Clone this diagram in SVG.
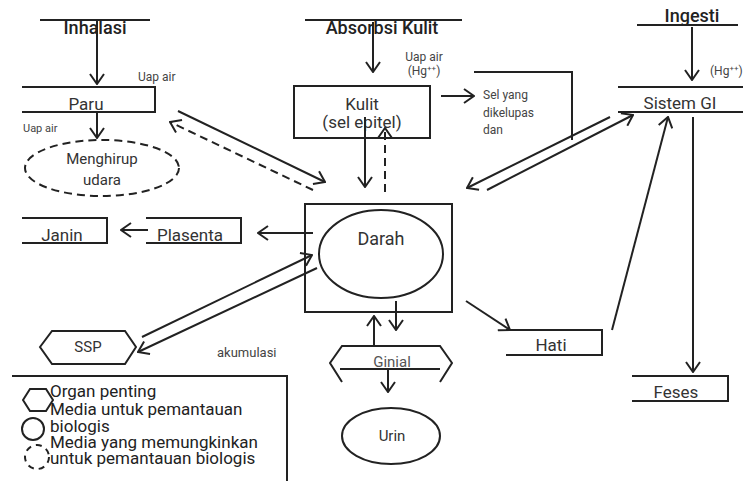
<svg xmlns="http://www.w3.org/2000/svg" width="743" height="481" viewBox="0 0 743 481">
<defs>
<marker id="ah" viewBox="0 0 12 16" refX="11" refY="8" markerWidth="12" markerHeight="16" markerUnits="userSpaceOnUse" orient="auto">
<path d="M1,1 L11,8 L1,15" fill="none" stroke="#222" stroke-width="2"/>
</marker>
</defs>
<style>
.s{fill:none;stroke:#222;stroke-width:2}
.d{fill:none;stroke:#222;stroke-width:2;stroke-dasharray:8 5}
.c{stroke:#222;stroke-width:2;fill:none;marker-end:url(#ah)}
.cd{stroke:#222;stroke-width:2;fill:none;stroke-dasharray:8 5;marker-end:url(#ah)}
text{font-family:Roboto,"Liberation Sans",sans-serif;fill:#333}
.h{font-size:18px;font-weight:500;text-anchor:middle;fill:#222}
.n{font-size:17px;text-anchor:middle}
.m{font-size:15px;text-anchor:middle}
.sm{font-size:12px;fill:#444}
.lg{font-size:17px;fill:#222}
</style>
<rect width="743" height="481" fill="#fff"/>

<g id="inhalasi">
<line class="s" x1="40" y1="20" x2="150" y2="20"/>
<text class="h" x="95" y="34">Inhalasi</text>
</g>
<g id="absorbsi">
<line class="s" x1="305" y1="20" x2="462" y2="20"/>
<text class="h" x="382" y="34">Absorbsi Kulit</text>
</g>
<g id="ingesti">
<line class="s" x1="637" y1="25" x2="738" y2="25"/>
<text class="h" x="692" y="22">Ingesti</text>
</g>

<g id="paru">
<path class="s" d="M22,87 H155 V112 H22"/>
<text class="n" x="86" y="110">Paru</text>
</g>
<g id="menghirup">
<ellipse class="d" cx="102" cy="168" rx="77" ry="28"/>
<text class="m" x="102" y="164">Menghirup</text>
<text class="m" x="102" y="185">udara</text>
</g>
<g id="kulit">
<rect class="s" x="294" y="86" width="136" height="52"/>
<text class="n" x="362" y="110">Kulit</text>
<text class="n" x="362" y="128">(sel epitel)</text>
</g>
<g id="sel">
<text class="sm" x="483" y="99">Sel yang</text>
<text class="sm" x="483" y="117">dikelupas</text>
<text class="sm" x="483" y="134">dan</text>
<path class="s" d="M474,72 H572 V140"/>
</g>
<g id="sistemgi">
<path class="s" d="M618,87 H743 M618,112 H743"/>
<text class="n" x="680" y="109">Sistem GI</text>
</g>
<g id="darah">
<rect class="s" x="305" y="204" width="147" height="108"/>
<ellipse class="s" cx="381" cy="254" rx="62" ry="44"/>
<text class="n" x="381" y="245" style="font-size:18px">Darah</text>
</g>
<g id="plasenta">
<path class="s" d="M146,218 H241 V243 H146"/>
<text class="n" x="190" y="241">Plasenta</text>
</g>
<g id="janin">
<path class="s" d="M22,218 H107 V243 H22"/>
<text class="n" x="62" y="241">Janin</text>
</g>
<g id="ssp">
<polygon class="s" points="40,347 52,331 125,331 136,347 125,364 52,364"/>
<text class="m" x="88" y="352">SSP</text>
</g>
<g id="ginjal">
<path class="s" d="M342,382 L330,363 L342,346 H440 L452,363 L440,382 M340,369 H440"/>
<text class="m" x="392" y="367" style="fill:#555">Ginial</text>
</g>
<g id="urin">
<ellipse class="s" cx="391" cy="436" rx="49" ry="28"/>
<text class="m" x="392" y="441">Urin</text>
</g>
<g id="hati">
<path class="s" d="M506,330 H602 V355 H506"/>
<text class="n" x="551" y="351">Hati</text>
</g>
<g id="feses">
<path class="s" d="M632,376 H728 V401 H632"/>
<text class="n" x="676" y="398">Feses</text>
</g>

<g id="labels">
<text class="sm" x="138" y="81" style="font-size:12px">Uap air</text>
<text class="sm" x="23" y="132" style="font-size:11px">Uap air</text>
<text class="sm" x="424" y="61" text-anchor="middle">Uap air</text>
<text class="sm" x="424" y="75" text-anchor="middle">(Hg<tspan font-size="8" dy="-4">++</tspan><tspan dy="4">)</tspan></text>
<text class="sm" x="710" y="75">(Hg<tspan font-size="8" dy="-4">++</tspan><tspan dy="4">)</tspan></text>
<text class="sm" x="217" y="357" style="font-size:13px">akumulasi</text>
</g>

<g id="connectors">
<line class="c" x1="97" y1="20" x2="97" y2="84"/>
<line class="c" x1="373" y1="22" x2="373" y2="72"/>
<line class="c" x1="692" y1="27" x2="692" y2="80"/>
<line class="c" x1="97" y1="113" x2="97" y2="138"/>
<line class="c" x1="178" y1="111" x2="325" y2="182"/>
<line class="cd" x1="313" y1="190" x2="170" y2="122"/>
<line class="c" x1="365" y1="117" x2="365" y2="187"/>
<line class="cd" x1="385" y1="192" x2="385" y2="128"/>
<line class="c" x1="441" y1="96" x2="474" y2="96"/>
<line class="c" x1="610" y1="117" x2="467" y2="188"/>
<line class="c" x1="487" y1="190" x2="633" y2="115"/>
<line class="c" x1="313" y1="233" x2="258" y2="233"/>
<line class="c" x1="148" y1="230" x2="121" y2="230"/>
<line class="c" x1="142" y1="337" x2="312" y2="255"/>
<line class="c" x1="317" y1="268" x2="138" y2="352"/>
<line class="c" x1="396" y1="301" x2="396" y2="330"/>
<line class="c" x1="374" y1="345" x2="374" y2="316"/>
<line class="c" x1="388" y1="369" x2="388" y2="392"/>
<line class="c" x1="466" y1="301" x2="510" y2="330"/>
<line class="c" x1="612" y1="330" x2="668" y2="117"/>
<line class="c" x1="693" y1="117" x2="693" y2="372"/>
</g>

<g id="legend">
<path class="s" d="M12,376 H287 V481"/>
<polygon class="s" points="23,400 30,389 46,389 53,400 46,411 30,411"/>
<circle class="s" cx="33" cy="429" r="11"/>
<circle class="d" cx="37" cy="457" r="12" style="stroke-dasharray:6 5"/>
<text class="lg" x="50" y="397">Organ penting</text>
<text class="lg" x="50" y="415">Media untuk pemantauan</text>
<text class="lg" x="50" y="432">biologis</text>
<text class="lg" x="50" y="448">Media yang memungkinkan</text>
<text class="lg" x="50" y="464">untuk pemantauan biologis</text>
</g>
</svg>
